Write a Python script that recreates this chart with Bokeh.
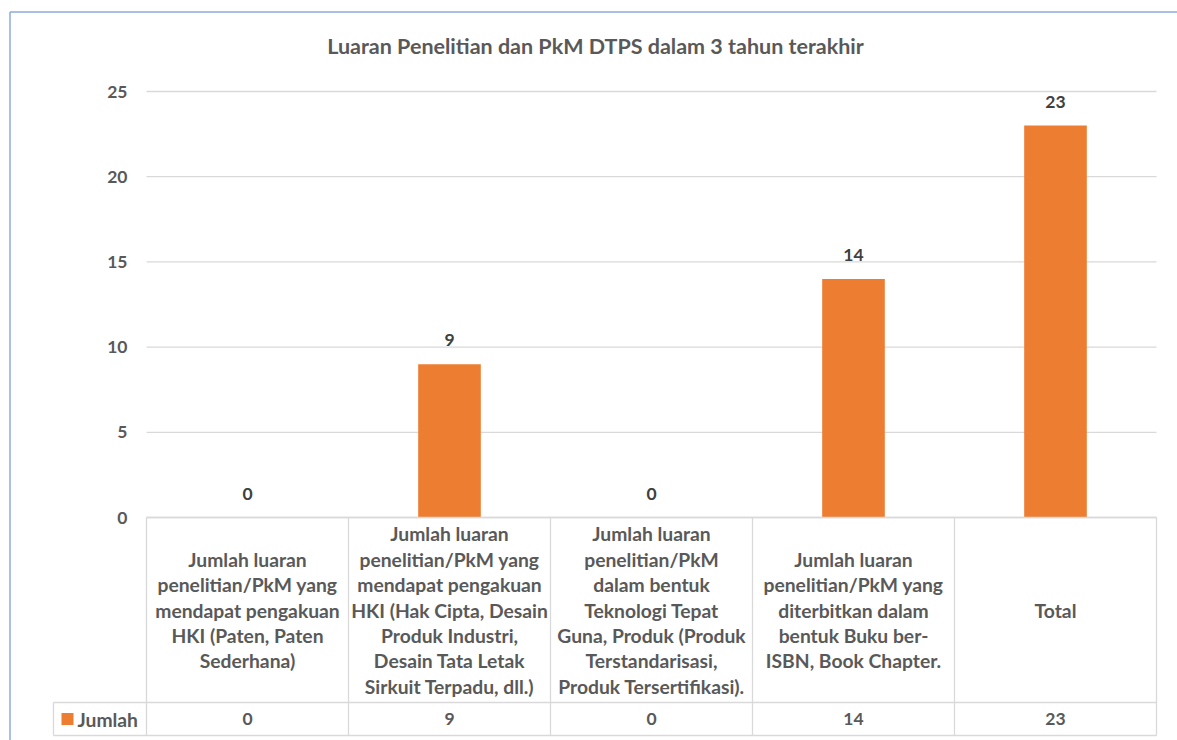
from bokeh.plotting import figure
from bokeh.models import Range1d
from bokeh.core.properties import value
from bokeh.embed import file_html
from bokeh.resources import INLINE

# ---- data ----
title = "Luaran Penelitian dan PkM DTPS dalam 3 tahun terakhir"
series_name = "Jumlah"
categories = [
    ["Jumlah luaran", "penelitian/PkM yang", "mendapat pengakuan", "HKI (Paten, Paten", "Sederhana)"],
    ["Jumlah luaran", "penelitian/PkM yang", "mendapat pengakuan", "HKI (Hak Cipta, Desain",
     "Produk Industri,", "Desain Tata Letak", "Sirkuit Terpadu, dll.)"],
    ["Jumlah luaran", "penelitian/PkM", "dalam bentuk", "Teknologi Tepat",
     "Guna, Produk (Produk", "Terstandarisasi,", "Produk Tersertifikasi)."],
    ["Jumlah luaran", "penelitian/PkM yang", "diterbitkan dalam", "bentuk Buku ber-", "ISBN, Book Chapter."],
    ["Total"],
]
values = [0, 9, 0, 14, 23]
y_ticks = [0, 5, 10, 15, 20, 25]

# ---- layout (pixels) ----
W, H = 1177, 740
ORIGIN = 0                      # page position of canvas corner
PX0, PX_PER = 146.0, 202.0      # page x of category 0 edge, px per category
PY0, PY_PER = 517.0, 17.04      # page y of value 0, px per unit

def dx(px):
    return (px - PX0) / PX_PER

def dy(py):
    return (PY0 - py) / PY_PER

FONT = value("Lato")
GREY = "#595959"
LINE = "#D9D9D9"
ORANGE = "#ED7D31"

p = figure(width=W, height=H, output_backend="svg", toolbar_location=None,
           x_range=Range1d(dx(ORIGIN), dx(ORIGIN + W)), y_range=Range1d(dy(ORIGIN + H), dy(ORIGIN)),
           x_axis_location=None, y_axis_location=None, min_border=0)
p.grid.visible = False
p.outline_line_color = None
p.background_fill_color = "white"

n = len(values)
centers = [i + 0.5 for i in range(n)]

# chart border (left and top)
p.segment(x0=[dx(9.5), dx(9.5)], y0=[dy(11.5), dy(11.5)], x1=[dx(9.5), dx(1200)], y1=[dy(800), dy(11.5)],
          line_color="#8FAADC", line_width=1.5)

# gridlines
p.segment(x0=[0] * len(y_ticks), x1=[n] * len(y_ticks), y0=y_ticks, y1=y_ticks,
          line_color=LINE, line_width=1.3)

# y tick labels
p.text(x=[dx(127)] * len(y_ticks), y=y_ticks, text=[str(t) for t in y_ticks],
       text_align="right", text_baseline="middle", text_font=FONT, text_font_style="bold",
       text_font_size="17.5px", text_color=GREY)

# bars
p.vbar(x=centers, top=values, bottom=0, width=0.31, fill_color=ORANGE, line_color=None)

# data labels
p.text(x=centers, y=values, text=[str(v) for v in values], y_offset=-24,
       text_align="center", text_baseline="middle", text_font=FONT, text_font_style="bold",
       text_font_size="17.5px", text_color="#404040")

# title
p.text(x=[dx(595)], y=[dy(45)], text=[title], text_align="center", text_baseline="middle",
       text_font=FONT, text_font_style="bold", text_font_size="21.5px", text_color=GREY)

# ---- data table ----
row_top, row_mid, row_bot = 517, 702, 735
leg_left = 53
# horizontal lines
p.segment(x0=[0, dx(leg_left), dx(leg_left)], x1=[n, n, n],
          y0=[dy(row_top), dy(row_mid), dy(row_bot)], y1=[dy(row_top), dy(row_mid), dy(row_bot)],
          line_color=LINE, line_width=1.3)
# vertical lines
vx = list(range(n + 1))
p.segment(x0=vx, x1=vx, y0=[dy(row_top)] * len(vx), y1=[dy(row_bot)] * len(vx),
          line_color=LINE, line_width=1.3)
p.segment(x0=[dx(leg_left)], x1=[dx(leg_left)], y0=[dy(row_mid)], y1=[dy(row_bot)],
          line_color=LINE, line_width=1.3)

# header text
LH = 25.4
hx, hy, ht = [], [], []
cy = (row_top + row_mid) / 2
for i, lines in enumerate(categories):
    k = len(lines)
    for j, s in enumerate(lines):
        hx.append(i + 0.5)
        hy.append(dy(cy + (j - (k - 1) / 2) * LH))
        ht.append(s)
p.text(x=hx, y=hy, text=ht, text_align="center", text_baseline="middle", text_font=FONT,
       text_font_style="bold", text_font_size="19.3px", text_color=GREY)

# values row
vy = dy((row_mid + row_bot) / 2)
p.text(x=centers, y=[vy] * n, text=[str(v) for v in values], text_align="center",
       text_baseline="middle", text_font=FONT, text_font_style="bold", text_font_size="17.5px",
       text_color=GREY)

# legend key + series name
p.rect(x=[dx(67)], y=[vy], width=dx(73) - dx(61), height=12 / PY_PER, fill_color=ORANGE, line_color=None)
p.text(x=[dx(77)], y=[vy], text=[series_name], text_align="left", text_baseline="middle",
       text_font=FONT, text_font_style="bold", text_font_size="19.3px", text_color=GREY)

open("out.html", "w").write(file_html(p, INLINE))
